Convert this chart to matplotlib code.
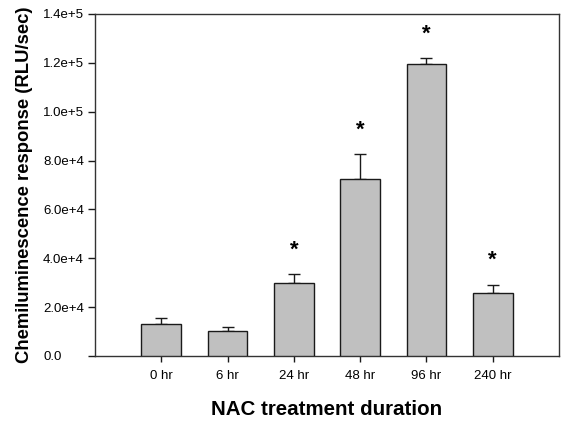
import matplotlib
matplotlib.use("Agg")
import matplotlib.pyplot as plt
import numpy as np

plt.rcParams['font.family'] = ['Liberation Sans', 'DejaVu Sans']

durations = ['0 hr', '6 hr', '24 hr', '48 hr', '96 hr', '240 hr']
response = [13000, 10400, 29900, 72300, 119400, 25900]
sem = [2500, 1600, 3500, 10300, 2500, 3300]
significant = [False, False, True, True, True, True]

fig = plt.figure(figsize=(5.64, 4.21), dpi=100)
ax = fig.add_axes([95 / 564, 1 - 356 / 421, 464 / 564, 342 / 421])

x = np.arange(len(durations))
ax.bar(x, response, width=0.6, color='#c0c0c0', edgecolor='#1a1a1a',
       linewidth=1.0, zorder=3)
ax.errorbar(x, response, yerr=[np.zeros(len(sem)), sem], fmt='none',
            ecolor='#1a1a1a', elinewidth=1.0, capsize=4, capthick=1.0, zorder=2)

for xi, yi, ei, sig in zip(x, response, sem, significant):
    if sig:
        ax.annotate('*', (xi, yi + ei), xytext=(0, 10), textcoords='offset points',
                    ha='center', va='bottom', fontsize=16, fontweight='bold')

ax.set_xlim(-1, 6)
ax.set_ylim(0, 1.4e5)
ax.set_xticks(x)
ax.set_xticklabels(durations, fontsize=9.5)
yt = np.arange(0, 1.41e5, 2e4)
ax.set_yticks(yt)
ax.set_yticklabels(['0.0'] + ['%.1fe+%d' % (v / 10 ** int(np.log10(v)), int(np.log10(v))) for v in yt[1:]],
                   fontsize=9.5, ha='left')
ax.tick_params(axis='y', direction='out', length=5, width=1, color='#1a1a1a', pad=32.4)
ax.tick_params(axis='x', direction='out', length=4, width=1, color='#1a1a1a', pad=6)
for s in ax.spines.values():
    s.set_color('#333333')
    s.set_linewidth(1.0)

ax.set_xlabel('NAC treatment duration', fontsize=14.8, fontweight='bold', labelpad=13)
ax.set_ylabel('Chemiluminescence response (RLU/sec)', fontsize=13.3, fontweight='bold', labelpad=7)

fig.savefig('out.png', dpi=100)
